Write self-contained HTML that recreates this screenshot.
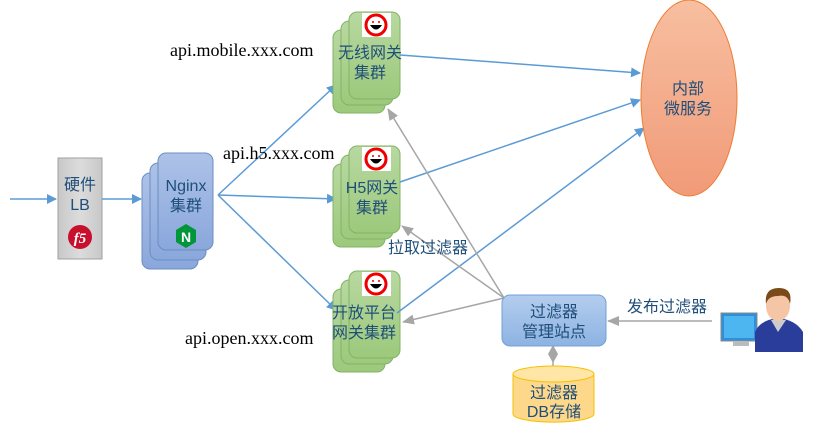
<!DOCTYPE html>
<html><head><meta charset="utf-8"><style>
body{margin:0;background:#fff;width:829px;height:437px;overflow:hidden}
text{font-family:"Liberation Sans","Noto Sans CJK SC",sans-serif}
.s{font-family:"Liberation Serif",serif;font-size:18px;fill:#000}
.c{font-size:16px;fill:#1f4e79;text-anchor:middle}
</style></head><body>
<svg width="829" height="437" viewBox="0 0 829 437" xmlns="http://www.w3.org/2000/svg">
<defs>
<marker id="b" markerWidth="10" markerHeight="10" refX="9" refY="5" orient="auto" markerUnits="userSpaceOnUse"><path d="M0,0 L10,5 L0,10 z" fill="#5b9bd5"/></marker>
<marker id="g" markerWidth="12" markerHeight="10" refX="11" refY="5" orient="auto" markerUnits="userSpaceOnUse"><path d="M0,0 L12,5 L0,10 z" fill="#a6a6a6"/></marker>
<linearGradient id="gr" x1="0" y1="0" x2="0" y2="1"><stop offset="0" stop-color="#b8d8a0"/><stop offset="1" stop-color="#9cc97c"/></linearGradient>
<linearGradient id="bl" x1="0" y1="0" x2="0" y2="1"><stop offset="0" stop-color="#adc2e8"/><stop offset="1" stop-color="#8aa7dc"/></linearGradient>
<linearGradient id="mg" x1="0" y1="0" x2="0" y2="1"><stop offset="0" stop-color="#b4cdee"/><stop offset="1" stop-color="#8db3e2"/></linearGradient>
<linearGradient id="or" x1="0" y1="0" x2="0" y2="1"><stop offset="0" stop-color="#f7bfa0"/><stop offset="1" stop-color="#f19a78"/></linearGradient>
<linearGradient id="gy" x1="0" y1="0" x2="1" y2="0"><stop offset="0" stop-color="#c8c8c8"/><stop offset="0.5" stop-color="#dcdcdc"/><stop offset="1" stop-color="#c8c8c8"/></linearGradient>
<g id="stack">
<rect x="333" y="30" width="52" height="83" rx="8" fill="url(#gr)" stroke="#82b366"/>
<rect x="341" y="21" width="52" height="84" rx="8" fill="url(#gr)" stroke="#82b366"/>
<rect x="349" y="12" width="51" height="87" rx="8" fill="url(#gr)" stroke="#82b366"/>
<rect x="362" y="13" width="29" height="24" fill="#fff"/>
<circle cx="376" cy="25" r="10" fill="#fff" stroke="#e00" stroke-width="3"/>
<path d="M370,25 Q376,34 382,25 Z" fill="#000"/><circle cx="373" cy="22" r="1" fill="#e00"/><circle cx="379" cy="22" r="1" fill="#e00"/>
</g>
</defs>
<line x1="10" y1="199" x2="56" y2="199" stroke="#5b9bd5" stroke-width="1.5" marker-end="url(#b)"/>
<rect x="58" y="158" width="44" height="101" fill="url(#gy)" stroke="#a0a0a0"/>
<text class="c" x="80" y="190">硬件</text><text class="c" x="80" y="210">LB</text>
<circle cx="80" cy="237" r="12" fill="#c8102e"/><text x="80" y="243" font-size="15" fill="#fff" text-anchor="middle" font-style="italic" font-weight="bold" style="font-family:'Liberation Serif',serif">f5</text>
<line x1="102" y1="199" x2="141" y2="199" stroke="#5b9bd5" stroke-width="1.5" marker-end="url(#b)"/>
<rect x="142" y="173" width="56" height="96" rx="8" fill="url(#bl)" stroke="#6c8ebf"/>
<rect x="150" y="163" width="56" height="97" rx="8" fill="url(#bl)" stroke="#6c8ebf"/>
<rect x="158" y="153" width="55" height="97" rx="8" fill="url(#bl)" stroke="#6c8ebf"/>
<text class="c" x="186" y="191">Nginx</text><text class="c" x="186" y="211">集群</text>
<polygon points="186,224 196,230 196,242 186,248 176,242 176,230" fill="#009639"/>
<text x="186" y="242" font-size="14" font-weight="bold" fill="#fff" text-anchor="middle">N</text>
<g stroke="#5b9bd5" stroke-width="1.5" fill="none">
<line x1="218" y1="195" x2="336" y2="85" marker-end="url(#b)"/>
<line x1="218" y1="195" x2="336" y2="199" marker-end="url(#b)"/>
<line x1="218" y1="195" x2="336" y2="310" marker-end="url(#b)"/>
</g>
<text class="s" x="170" y="56">api.mobile.xxx.com</text>
<text class="s" x="223" y="159">api.h5.xxx.com</text>
<text class="s" x="185" y="344">api.open.xxx.com</text>
<use href="#stack"/>
<text class="c" x="370" y="58">无线网关</text><text class="c" x="370" y="78">集群</text>
<use href="#stack" y="134"/>
<text class="c" x="372" y="193">H5网关</text><text class="c" x="372" y="213">集群</text>
<use href="#stack" y="259"/>
<text class="c" x="364" y="318">开放平台</text><text class="c" x="364" y="338">网关集群</text>
<g stroke="#5b9bd5" stroke-width="1.5">
<line x1="400" y1="55" x2="640" y2="73" marker-end="url(#b)"/>
<line x1="400" y1="182" x2="640" y2="100" marker-end="url(#b)"/>
<line x1="397" y1="313" x2="644" y2="128" marker-end="url(#b)"/>
</g>
<ellipse cx="689" cy="98" rx="48" ry="98" fill="url(#or)" stroke="#ed7d31"/>
<text class="c" x="688" y="94">内部</text><text class="c" x="688" y="114">微服务</text>
<g stroke="#a6a6a6" stroke-width="1.5">
<line x1="504" y1="298" x2="388" y2="109" marker-end="url(#g)"/>
<line x1="504" y1="298" x2="402" y2="226" marker-end="url(#g)"/>
<line x1="504" y1="298" x2="403" y2="322" marker-end="url(#g)"/>
<line x1="712" y1="321" x2="608" y2="321" marker-end="url(#g)"/>
<line x1="553" y1="352" x2="553" y2="368"/>
</g>
<polygon points="553,345 558,354 553,363 548,354" fill="#a6a6a6"/>
<text class="c" x="428" y="253">拉取过滤器</text>
<rect x="502" y="295" width="104" height="51" rx="8" fill="url(#mg)" stroke="#6fa0d8"/>
<text class="c" x="554" y="317">过滤器</text><text class="c" x="554" y="337">管理站点</text>
<text class="c" x="667" y="312">发布过滤器</text>
<path d="M513,374 L513,414 A40,8 0 0 0 594,414 L594,374" fill="#fed88a" stroke="#f5c000"/>
<ellipse cx="553.5" cy="374" rx="40.5" ry="8" fill="#ffe6a6" stroke="#f5c000"/>
<text class="c" x="554" y="398">过滤器</text><text class="c" x="554" y="417">DB存储</text>
<rect x="721" y="313" width="36" height="28" fill="#2f8fd8" stroke="#888"/>
<rect x="724" y="316" width="30" height="22" fill="#4db6f0"/>
<rect x="733" y="341" width="16" height="5" fill="#bbb"/>
<path d="M755,352 L755,332 Q760,320 778,318 Q796,320 803,332 L803,352 Z" fill="#2a3d9a"/>
<path d="M771,320 L778,332 L786,320 Z" fill="#ccc"/>
<ellipse cx="778" cy="306" rx="12" ry="15" fill="#f5c6a5"/>
<path d="M766,304 Q764,288 779,288 Q793,288 790,304 Q788,294 778,296 Q768,296 766,304Z" fill="#7a4a1a"/>
</svg>
</body></html>
